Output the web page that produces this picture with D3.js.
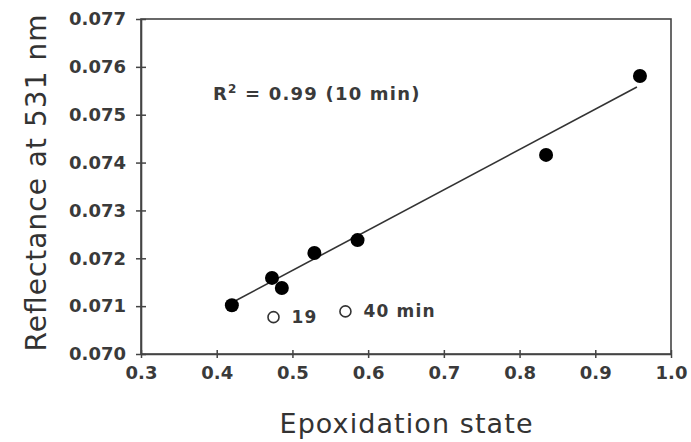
<!DOCTYPE html>
<html>
<head>
<meta charset="utf-8">
<script src="https://cdn.jsdelivr.net/npm/d3@7"></script>
<style>
  html, body { margin: 0; padding: 0; background: #fff; }
  svg { display: block; }
  text { font-family: "DejaVu Sans", sans-serif; fill: #333; }
</style>
</head>
<body>
<svg id="chart" width="691" height="442"></svg>
<script>
// Epoxidation state vs. reflectance at 531 nm (10 min samples)
const epoxState   = [0.420, 0.473, 0.486, 0.529, 0.586, 0.835, 0.959];
const reflectance = [0.07102, 0.07159, 0.07138, 0.07211, 0.07238, 0.07416, 0.07581];

// later samples shown as open circles
const lateLabels = ["19", "40 min"];
const lateEpox   = [0.475, 0.570];
const lateRefl   = [0.07077, 0.07089];

// fitted regression line endpoints
const fitX = [0.421, 0.955];
const fitY = [0.07108, 0.07558];

const xTicks = [0.3, 0.4, 0.5, 0.6, 0.7, 0.8, 0.9, 1.0];
const yTicks = [0.070, 0.071, 0.072, 0.073, 0.074, 0.075, 0.076, 0.077];

const svg = d3.select("#chart");
const margin = {top: 19, right: 20, bottom: 88, left: 141};
const W = 691, H = 442;
const iw = W - margin.left - margin.right;
const ih = H - margin.top - margin.bottom;

const x = d3.scaleLinear().domain([0.3, 1.0]).range([0, iw]);
const y = d3.scaleLinear().domain([0.070, 0.077]).range([ih, 0]);

const g = svg.append("g").attr("transform", `translate(${margin.left},${margin.top})`);

const axisColor = "#444";
const labelColor = "#3a3a3a";

// frame
g.append("rect")
  .attr("x", 0).attr("y", 0).attr("width", iw).attr("height", ih)
  .attr("fill", "none").attr("stroke", axisColor).attr("stroke-width", 1.6);

// x axis
const xAxis = g.append("g").attr("transform", `translate(0,${ih})`)
  .call(d3.axisBottom(x).tickValues(xTicks).tickFormat(d3.format(".1f")).tickSize(4).tickSizeOuter(0).tickPadding(8));
xAxis.select(".domain").attr("stroke", axisColor).attr("stroke-width", 1.6);
xAxis.selectAll(".tick line").attr("y1", -4).attr("stroke", axisColor).attr("stroke-width", 1.5);
xAxis.selectAll(".tick text")
  .attr("font-size", 18).attr("font-weight", "bold").style("fill", labelColor)
  .style("font-family", "DejaVu Sans");

// y axis
const yAxis = g.append("g")
  .call(d3.axisLeft(y).tickValues(yTicks).tickFormat(d3.format(".3f")).tickSize(5).tickSizeOuter(0).tickPadding(10));
yAxis.select(".domain").attr("stroke", axisColor).attr("stroke-width", 1.6);
yAxis.selectAll(".tick line").attr("x1", 5).attr("stroke", axisColor).attr("stroke-width", 1.5);
yAxis.selectAll(".tick text")
  .attr("font-size", 18).attr("font-weight", "bold").style("fill", labelColor)
  .style("font-family", "DejaVu Sans");

// regression line
g.append("line")
  .attr("x1", x(fitX[0])).attr("y1", y(fitY[0]))
  .attr("x2", x(fitX[1])).attr("y2", y(fitY[1]))
  .attr("stroke", "#333").attr("stroke-width", 1.6);

// filled points
g.selectAll("circle.pt")
  .data(epoxState.map((e, i) => ({e, r: reflectance[i]})))
  .join("circle").attr("class", "pt")
  .attr("cx", d => x(d.e)).attr("cy", d => y(d.r))
  .attr("r", 7).attr("fill", "#000");

// open points with labels
const late = lateEpox.map((e, i) => ({e, r: lateRefl[i], label: lateLabels[i]}));
g.selectAll("circle.late")
  .data(late)
  .join("circle").attr("class", "late")
  .attr("cx", d => x(d.e)).attr("cy", d => y(d.r))
  .attr("r", 5.5).attr("fill", "#fff").attr("stroke", "#333").attr("stroke-width", 1.6);
g.selectAll("text.late")
  .data(late)
  .join("text").attr("class", "late")
  .attr("x", d => x(d.e) + 18).attr("y", d => y(d.r) + 6)
  .attr("font-size", 17).attr("font-weight", "bold").attr("letter-spacing", 1.2)
  .style("fill", labelColor)
  .text(d => d.label);

// R² annotation
const ann = g.append("text")
  .attr("x", 213 - margin.left).attr("y", 100 - margin.top)
  .attr("font-size", 18).attr("font-weight", "bold").attr("letter-spacing", 1.2)
  .style("fill", labelColor);
ann.append("tspan").text("R");
ann.append("tspan").attr("font-size", 12).attr("dy", -7).text("2");
ann.append("tspan").attr("dy", 7).text(" = 0.99 (10 min)");

// axis titles
svg.append("text")
  .attr("x", 406).attr("y", 433)
  .attr("text-anchor", "middle").attr("font-size", 27)
  .attr("textLength", 253).attr("lengthAdjust", "spacing")
  .style("fill", "#333")
  .text("Epoxidation state");

svg.append("text")
  .attr("transform", `translate(46,${183}) rotate(-90)`)
  .attr("text-anchor", "middle").attr("font-size", 28)
  .attr("textLength", 337).attr("lengthAdjust", "spacing")
  .style("fill", "#333")
  .text("Reflectance at 531 nm");
</script>
</body>
</html>
